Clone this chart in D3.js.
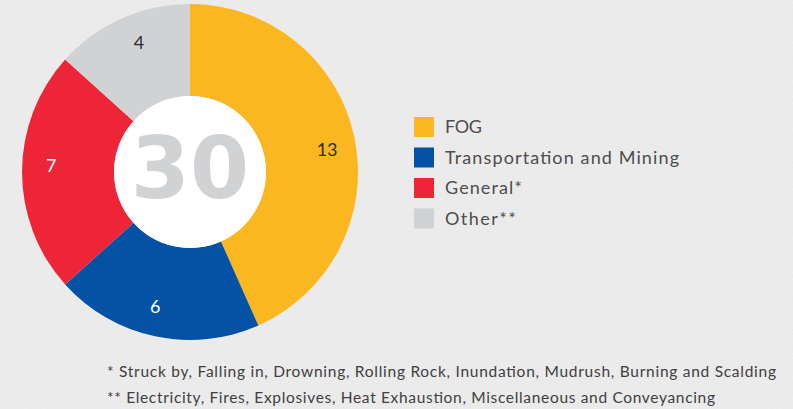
<!DOCTYPE html>
<html lang="en">
<head>
  <meta charset="UTF-8" />
  <title>Fatalities donut</title>
  <script src="https://d3js.org/d3.v7.min.js"></script>
  <style>
    body { margin: 0; padding: 0; background: #ebebeb; }
    svg { display: block; }
  </style>
</head>
<body>
  <svg width="793" height="409"></svg>
  <script>
    const categories = ["FOG", "Transportation and Mining", "General*", "Other**"];
    const values = [13, 6, 7, 4];
    const colors = ["#fbb71f", "#0452a5", "#ee2537", "#d1d2d4"];
    const labelColors = ["#2e2e2e", "#ffffff", "#ffffff", "#2e2e2e"];
    const total = "30";
    const footnotes = [
      "* Struck by, Falling in, Drowning, Rolling Rock, Inundation, Mudrush, Burning and Scalding",
      "** Electricity, Fires, Explosives, Heat Exhaustion, Miscellaneous and Conveyancing"
    ];

    const svg = d3.select("svg");
    const width = 793, height = 409;
    const textFont = "Lato, 'Open Sans', sans-serif";

    // paper texture
    const defs = svg.append("defs");
    const f = defs.append("filter").attr("id", "paper").attr("x", 0).attr("y", 0)
      .attr("width", "100%").attr("height", "100%");
    f.append("feTurbulence").attr("type", "fractalNoise").attr("baseFrequency", 0.9)
      .attr("numOctaves", 2).attr("seed", 3).attr("result", "noise");
    f.append("feColorMatrix").attr("type", "matrix")
      .attr("values", "0 0 0 0 0.55  0 0 0 0 0.55  0 0 0 0 0.55  0 0 0 -0.9 0.55");

    svg.append("rect").attr("width", width).attr("height", height).attr("fill", "#ececec");
    svg.append("rect").attr("width", width).attr("height", height).attr("filter", "url(#paper)").attr("opacity", 0.25);

    const cx = 190, cy = 172;
    const outerR = 168, innerR = 76;

    const pie = d3.pie().sort(null).value(d => d);
    const arcs = pie(values);
    const arc = d3.arc().innerRadius(innerR).outerRadius(outerR);

    // labels sit a little clockwise of the slice middle
    const labelPos = d => {
      const a = (d.startAngle + d.endAngle) / 2 + 2.5 * Math.PI / 180;
      const r = 139;
      return [r * Math.sin(a), -r * Math.cos(a)];
    };

    const g = svg.append("g").attr("transform", `translate(${cx},${cy})`);

    g.selectAll("path.slice")
      .data(arcs)
      .join("path")
      .attr("class", "slice")
      .attr("d", arc)
      .attr("fill", (d, i) => colors[i]);

    g.append("circle").attr("r", innerR).attr("fill", "#ffffff");

    g.selectAll("text.val")
      .data(arcs)
      .join("text")
      .attr("class", "val")
      .attr("transform", d => `translate(${labelPos(d)})`)
      .attr("text-anchor", "middle")
      .attr("dy", "0.36em")
      .attr("font-family", textFont)
      .attr("font-size", 18)
      .attr("fill", (d, i) => labelColors[i])
      .text(d => d.data);

    g.append("text")
      .attr("text-anchor", "middle")
      .attr("dy", "0.31em")
      .attr("font-family", "'DejaVu Sans', sans-serif")
      .attr("font-weight", "bold")
      .attr("font-size", 85)
      .attr("fill", "#d1d2d4")
      .text(total);

    // legend
    const legendWidths = [37, 234, 77, 71];
    const legend = svg.append("g").attr("transform", "translate(414,117)");
    const item = legend.selectAll("g")
      .data(categories)
      .join("g")
      .attr("transform", (d, i) => `translate(0,${i * 30.5})`);
    item.append("rect").attr("width", 20).attr("height", 20).attr("fill", (d, i) => colors[i]);
    item.append("text")
      .attr("x", 31)
      .attr("y", 10)
      .attr("dy", "0.36em")
      .attr("font-family", textFont)
      .attr("font-size", 18)
      .attr("fill", "#4d4d4d")
      .attr("textLength", (d, i) => legendWidths[i])
      .attr("lengthAdjust", "spacing")
      .text(d => d);

    const noteWidths = [669, 608];
    svg.selectAll("text.note")
      .data(footnotes)
      .join("text")
      .attr("class", "note")
      .attr("x", 107)
      .attr("y", (d, i) => 372 + i * 26)
      .attr("dy", "0.35em")
      .attr("font-family", textFont)
      .attr("font-size", 15.5)
      .attr("fill", "#404040")
      .attr("textLength", (d, i) => noteWidths[i])
      .attr("lengthAdjust", "spacing")
      .text(d => d);
  </script>
</body>
</html>
